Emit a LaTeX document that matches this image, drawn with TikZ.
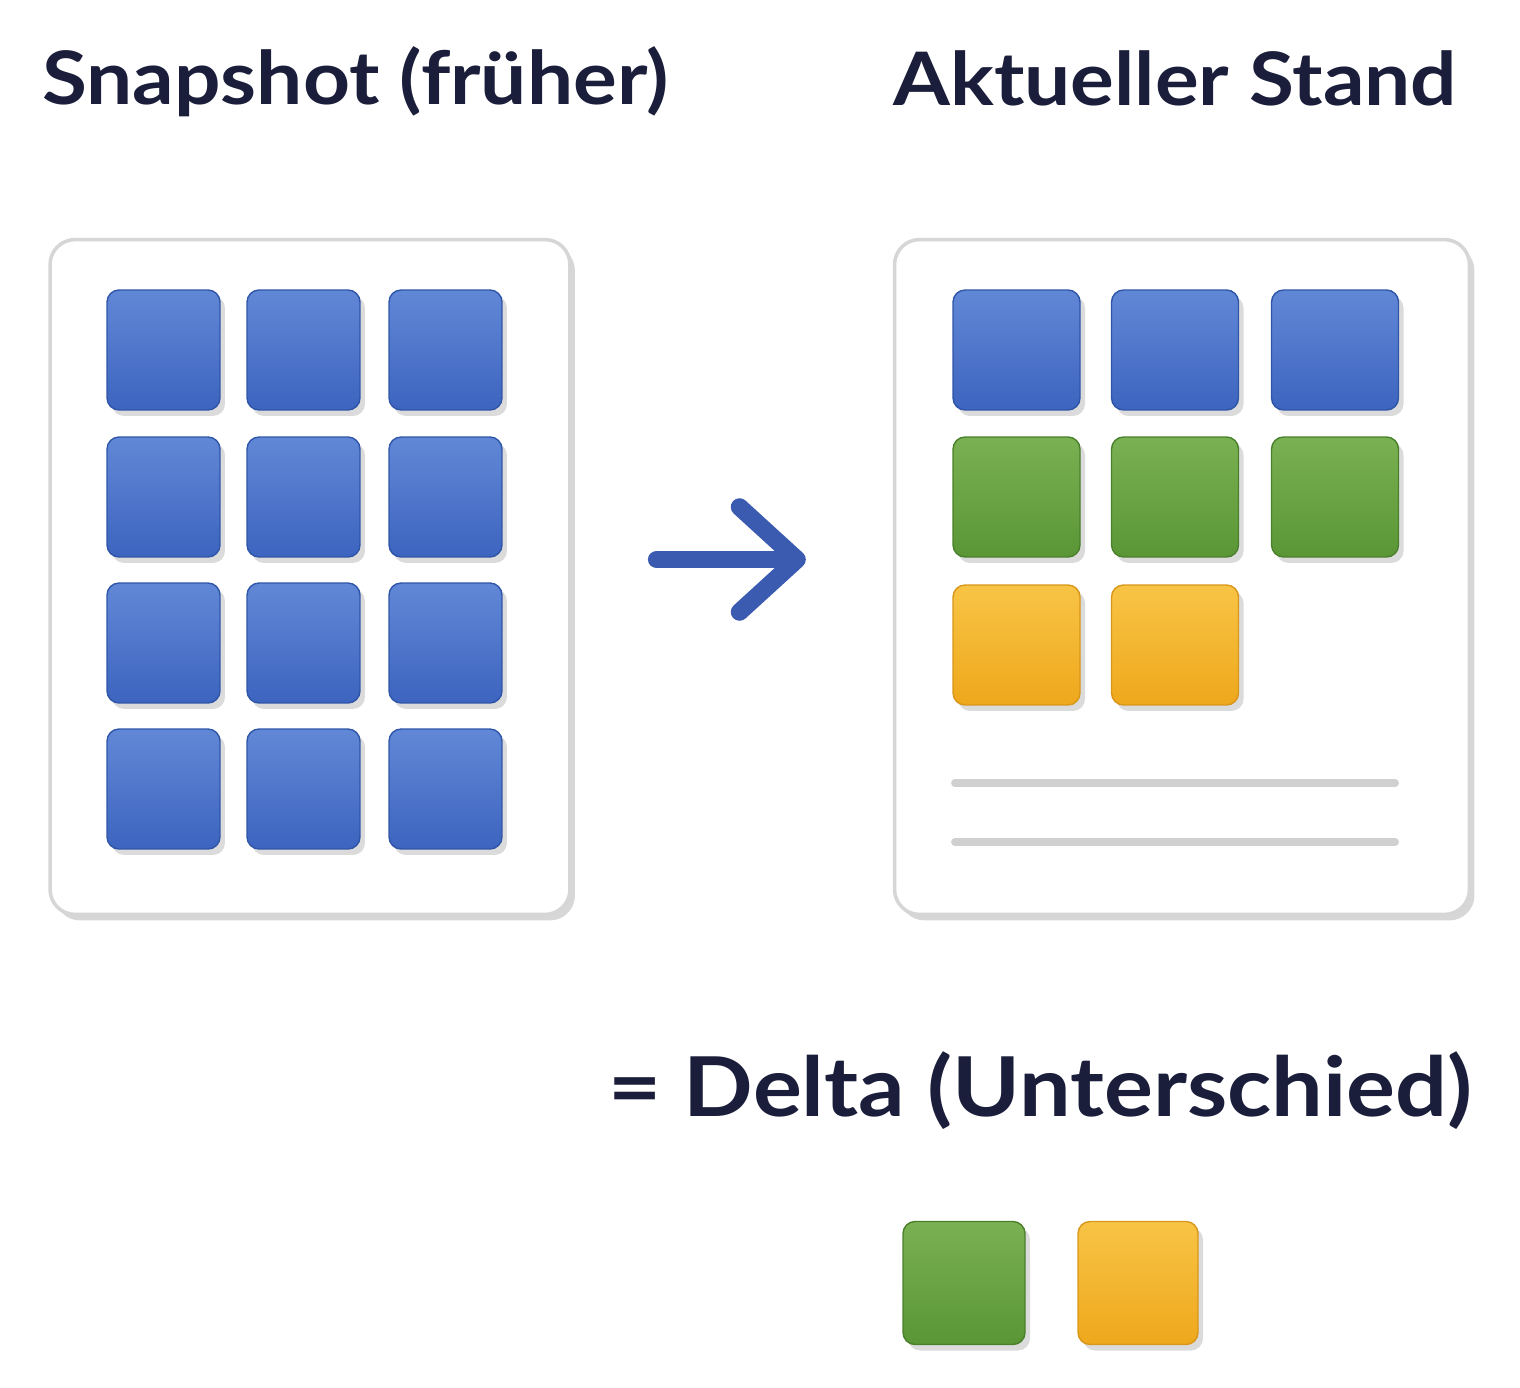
\documentclass[tikz,border=0pt]{standalone}
\usepackage{fontspec}
\setmainfont{Lato}
\newfontfamily\widefont[FakeStretch=1.11]{Lato}
\usetikzlibrary{shadows,arrows.meta}
\definecolor{txt}{HTML}{1B1E3A}
\definecolor{bluem}{HTML}{3D64BF}
\definecolor{bluet}{HTML}{6188D6}
\definecolor{blueb}{HTML}{2F55A8}
\definecolor{greenm}{HTML}{5A9636}
\definecolor{greent}{HTML}{7AB152}
\definecolor{greenb}{HTML}{4A802B}
\definecolor{orangem}{HTML}{EEA81C}
\definecolor{oranget}{HTML}{F8C445}
\definecolor{orangeb}{HTML}{D8961A}
\definecolor{arrowc}{HTML}{3A5BB0}
\definecolor{panelb}{HTML}{D6D6D6}
\definecolor{rulec}{HTML}{D0D0D0}
\begin{document}
\begin{tikzpicture}[x=0.02cm,y=-0.02cm,
  panel/.style={draw=panelb, line width=2pt, fill=white, rounded corners=0.5cm,
    minimum height=13.5cm, inner sep=0pt,
    drop shadow={shadow xshift=0.1cm, shadow yshift=-0.12cm, fill=black!35, opacity=0.45}},
  tile/.style={rounded corners=0.24cm, minimum height=2.4cm, inner sep=0pt, line width=0.8pt,
    drop shadow={shadow xshift=0.1cm, shadow yshift=-0.12cm, fill=black!40, opacity=0.35}},
  btile/.style={tile, draw=blueb, top color=bluet, bottom color=bluem},
  gtile/.style={tile, draw=greenb, top color=greent, bottom color=greenm},
  otile/.style={tile, draw=orangeb, top color=oranget, bottom color=orangem},
  title/.style={text=txt, font=\widefont\fontsize{42}{50}\selectfont\bfseries, inner sep=0pt, anchor=base west},
  rule/.style={draw=rulec, line width=4.5pt, line cap=round},
  flow/.style={draw=arrowc, line width=10pt, line cap=round,
    -{Straight Barb[length=1.15cm, width=2.1cm, round]}}
]
\useasboundingbox (0,0) rectangle (1520,1388);

\node[title] (t1) at (42,105) {Snapshot (früher)};
\node[title] (t2) at (893,106) {Aktueller Stand};

\node[panel, minimum width=10.4cm] (p1) at (310,577) {};
\node[panel, minimum width=11.5cm] (p2) at (1182,577) {};

% left grid
\foreach \c/\x in {1/163.5,2/303.5,3/445.5}{
  \foreach \r/\y in {1/350,2/497,3/643,4/789}{
    \node[btile, minimum width=2.26cm] (l\r\c) at (\x,\y) {};
  }
}
% right grid
\foreach \c/\x in {1/1016.5,2/1175,3/1335}{
  \node[btile, minimum width=2.54cm] (rb\c) at (\x,350) {};
  \node[gtile, minimum width=2.54cm] (rg\c) at (\x,497) {};
}
\node[otile, minimum width=2.54cm] (ro1) at (1016.5,645) {};
\node[otile, minimum width=2.54cm] (ro2) at (1175,645) {};

\draw[rule] (955,783) -- (1395,783);
\draw[rule] (955,842) -- (1395,842);

\draw[flow, shorten <=1.7cm, shorten >=1.74cm] ([yshift=0.35cm]p1.east) -- ([yshift=0.35cm]p2.west);

\node[title, font=\widefont\fontsize{47}{55}\selectfont\bfseries] (t3) at (608,1116) {= Delta (Unterschied)};

\node[gtile, minimum width=2.44cm, minimum height=2.46cm] (dg) at (964,1283) {};
\node[otile, minimum width=2.4cm, minimum height=2.46cm] (do) at (1138,1283) {};
\end{tikzpicture}
\end{document}
